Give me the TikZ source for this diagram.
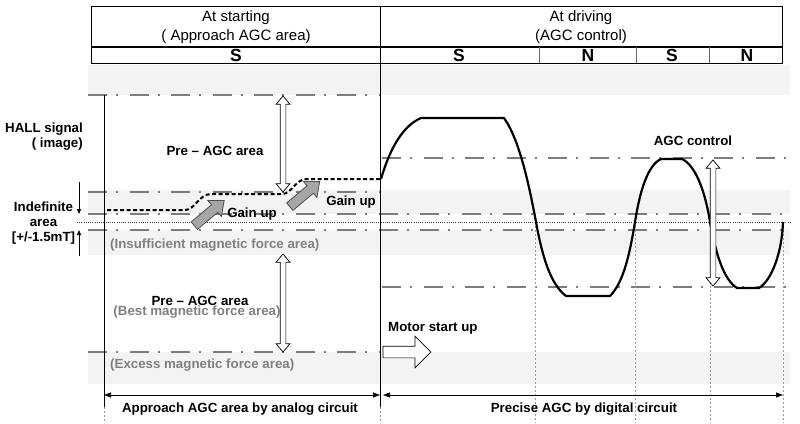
\documentclass[tikz,border=0pt]{standalone}
\usepackage{fontspec}
\setmainfont{Liberation Sans}
\usetikzlibrary{arrows.meta,shapes.arrows}
\definecolor{bandgray}{HTML}{F3F3F3}
\definecolor{dashgray}{HTML}{7D7D7D}
\definecolor{txtgray}{HTML}{808080}
\definecolor{gainfill}{HTML}{A6A6A6}
\definecolor{gainline}{HTML}{4D4D4D}
\begin{document}
\begin{tikzpicture}[x=1pt,y=-1pt,
 band/.style={fill=bandgray,draw=none},
 dd/.style={draw=dashgray,line width=2.7pt,dash pattern=on 19pt off 9pt on 2pt off 11.5pt},
 fineline/.style={draw=black!75,line width=0.6pt,dash pattern=on 1pt off 1.2pt},
 vdot/.style={draw=black!40,line width=0.6pt,dash pattern=on 2pt off 2pt},
 lbl/.style={font=\fontsize{13.3}{15}\selectfont\bfseries,inner sep=0pt,anchor=base},
 glbl/.style={lbl,text=txtgray},
 hdr/.style={font=\fontsize{15}{19}\selectfont,inner sep=0pt,anchor=base,align=center},
 pole/.style={font=\fontsize{17.5}{18}\selectfont\bfseries,inner sep=0pt,anchor=base},
 sig/.style={line width=2.2pt,black,line join=round},
 dsig/.style={line width=2pt,black,dash pattern=on 4pt off 2.5pt},
 hollowdbl/.style={double arrow,draw=black,fill=white,line width=0.7pt,inner sep=2.5pt,double arrow head extend=4pt,double arrow tip angle=80,rotate=90,outer sep=0pt},
 gainarrow/.style={single arrow,draw=gainline,fill=gainfill,line width=0.8pt,inner sep=4.5pt,single arrow head extend=5.5pt,single arrow tip angle=80,minimum height=39pt,outer sep=0pt},
 motorarrow/.style={single arrow,draw=black,fill=white,line width=0.7pt,inner sep=5.5pt,single arrow head extend=10pt,single arrow tip angle=90,minimum height=48pt,outer sep=0pt},
 dim/.style={line width=0.7pt,{Triangle[length=7pt,width=5pt]}-{Triangle[length=7pt,width=5pt]}},
 ind/.style={line width=0.7pt,-{Triangle[length=5pt,width=4pt]}},
]
\useasboundingbox (0,0) rectangle (800,423);
% bands
\fill[band] (88,65) rectangle (790,95);
\fill[band] (88,190) rectangle (790,214);
\fill[band] (88,230) rectangle (790,255);
\fill[band] (88,352) rectangle (790,384);
% dash-dot levels
\draw[dd] (88,95) -- (380,95);
\draw[dd] (88,192) -- (380,192);
\draw[dd] (88,214) -- (790,214);
\draw[dd] (88,230) -- (790,230);
\draw[dd] (88,352) -- (380,352);
\draw[dd] (382,158) -- (790,158);
\draw[dd] (382,287) -- (790,287);
% fine dotted zero line
\draw[fineline] (77,222) -- (790,222);
% dotted verticals
\draw[vdot] (535,222) -- (535,423);
\draw[vdot] (635,222) -- (635,423);
\draw[vdot] (710,222) -- (710,423);
\draw[vdot] (783,222) -- (783,423);
\draw[vdot] (104,407) -- (104,423);
\draw[vdot] (380,407) -- (380,423);
% solid verticals
\draw[line width=0.8pt] (104,95) -- (104,407);
\draw[line width=0.8pt] (380,6.5) -- (380,407);
% header
\draw[line width=1pt] (91.5,6.5) rectangle (782,63);
\draw[line width=1.8pt] (91.5,47) -- (782,47);
\draw[line width=0.6pt,black!60] (539,47) -- (539,63);
\draw[line width=0.6pt,black!60] (636,47) -- (636,63);
\draw[line width=0.6pt,black!60] (709,47) -- (709,63);
\node[hdr] (hstart) at (236,40.7) {At starting\\( Approach AGC area)};
\node[hdr] (hdrive) at (581,40.7) {At driving\\(AGC control)};
\node[pole] (p1) at (236,61) {S};
\node[pole] (p2) at (459,61) {S};
\node[pole] (p3) at (588,61) {N};
\node[pole] (p4) at (672,61) {S};
\node[pole] (p5) at (747,61) {N};
% left labels
\node[lbl,anchor=base east,align=right] (hall) at (83,147) {HALL signal\\( image)};
\node[lbl,align=center] (indef) at (43.5,241.5) {Indefinite\\area\\{[+/-1.5mT]}};
\coordinate (i1s) at (79,182);
\coordinate (i1e) at (79,214);
\coordinate (i2s) at (79,256);
\coordinate (i2e) at (79,230);
\draw[ind] (i1s) -- (i1e);
\draw[ind] (i2s) -- (i2e);
% area labels
\node[lbl] (pre1) at (215,155) {Pre -- AGC area};
\node[glbl,anchor=base west] (insuf) at (110,248) {(Insufficient magnetic force area)};
\node[lbl] (pre2) at (200,305) {Pre -- AGC area};
\node[glbl] (best) at (197,315) {(Best magnetic force area)};
\node[glbl,anchor=base west] (excess) at (110,368) {(Excess magnetic force area)};
\node[lbl] (gain1) at (252,217) {Gain up};
\node[lbl] (gain2) at (351,205) {Gain up};
\node[lbl] (agc) at (693,145) {AGC control};
\node[lbl,anchor=base west] (motor) at (388,331) {Motor start up};
\node[lbl] (analog) at (240,412) {Approach AGC area by analog circuit};
\node[lbl] (digital) at (584,412) {Precise AGC by digital circuit};
% signals
\draw[dsig] (107,210) -- (185,210) .. controls (195,210) and (199,194) .. (211,194)
  -- (282,194) .. controls (292,194) and (295,179) .. (307,179) -- (380,179);
\draw[sig] (381,179) .. controls (388,155) and (400,127) .. (421,118) -- (504,118)
  .. controls (520,140) and (530,190) .. (536,222)
  .. controls (542,255) and (550,284) .. (566,296) -- (610,296)
  .. controls (624,282) and (630,252) .. (635,222)
  .. controls (640,190) and (648,165) .. (661,159) -- (682,159)
  .. controls (695,165) and (705,190) .. (710,222)
  .. controls (716,255) and (724,280) .. (737,288) -- (759,288)
  .. controls (772,280) and (782,252) .. (783,222);
% hollow double arrows
\node[hollowdbl,minimum height=96pt] (pa1) at (283,144) {};
\node[hollowdbl,minimum height=98pt] (pa2) at (283,303) {};
\node[hollowdbl,minimum height=126pt] (agcarrow) at (713,223) {};
% gain arrows
\node[gainarrow,rotate=40] (ga1) at (207,215) {};
\node[gainarrow,rotate=40] (ga2) at (302.5,196) {};
% motor arrow
\node[motorarrow] (ma) at (404,352) {};
% bottom dimension arrows
\coordinate (al) at (104,395);
\coordinate (ar) at (380,395);
\coordinate (dl) at (383,395);
\coordinate (dr) at (783,395);
\draw[dim] (al) -- (ar);
\draw[dim] (dl) -- (dr);
\end{tikzpicture}
\end{document}
